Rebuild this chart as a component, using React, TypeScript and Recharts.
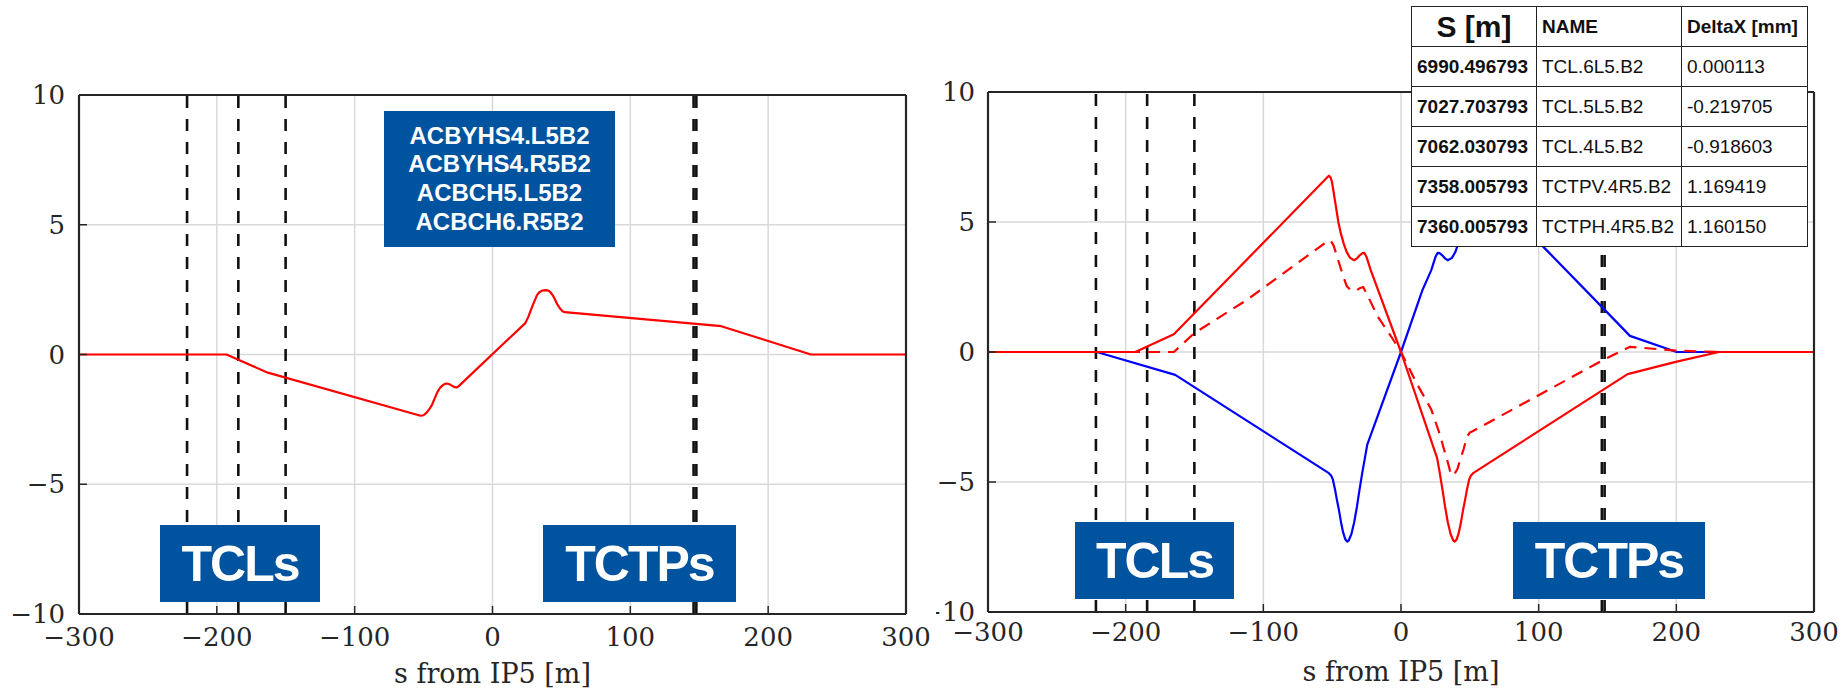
import React from 'react';
import {
  LineChart,
  Line,
  XAxis,
  YAxis,
  CartesianGrid,
  ReferenceLine,
} from 'recharts';

// axis ticks
const xTicks = [-300, -200, -100, 0, 100, 200, 300];
const yTicks = [-10, -5, 0, 5, 10];

// collimator positions, s from IP5 [m]
const tclPositions = [-221.6, -184.4, -150.1];
const tctpPositions = [145.9, 147.9];

// left panel: orbit bump from the 4 correctors
const leftRedS = [-300, -193, -163, -52.2, -50, -48, -46, -44, -42, -40, -38, -36, -34.5, -33, -31, -29.5, -27.5, -26, -24.5, 23.8, 26, 28.1, 30, 32.3, 34, 36, 38.7, 40.5, 42, 43.5, 45.1, 47, 49.3, 50.8, 52.3, 166, 196, 231, 300];
const leftRedX = [0, 0, -0.7, -2.36, -2.34, -2.25, -2.12, -1.95, -1.7, -1.45, -1.28, -1.18, -1.13, -1.12, -1.15, -1.2, -1.26, -1.27, -1.22, 1.21, 1.45, 1.75, 2.0, 2.29, 2.4, 2.46, 2.48, 2.46, 2.4, 2.3, 2.15, 1.93, 1.75, 1.67, 1.63, 1.09, 0.59, 0, 0];

// right panel
const rightRedS = [-300, -193, -165, -53.5, -52.4, -51, -50, -48.5, -47, -45.5, -43.8, -41.5, -39.5, -37, -34, -32, -30, -28, -26.6, -25, -22, 0, 26.2, 28, 30.5, 32, 34, 36, 38, 39.1, 40.5, 42, 43.4, 45, 46.5, 47.7, 49.5, 50.8, 52.4, 164.6, 200.3, 231, 300];
const rightRedX = [0, 0, 0.68, 6.72, 6.78, 6.7, 6.5, 6.0, 5.5, 5.0, 4.58, 4.15, 3.85, 3.62, 3.53, 3.6, 3.72, 3.8, 3.81, 3.65, 3.15, 0, -4.07, -4.6, -5.42, -5.95, -6.55, -7.0, -7.25, -7.29, -7.2, -6.95, -6.6, -6.1, -5.7, -5.35, -4.9, -4.75, -4.66, -0.85, -0.37, 0, 0];

const rightDashS = [-300, -165, -150, -112, -52.4, -51, -49, -47.5, -46, -43.8, -41.5, -39.5, -37, -34, -32, -30, -27.5, -25, -16.8, -6, 0, 11.2, 21.9, 28.4, 31, 34, 35.5, 37, 38.5, 41, 43, 45.5, 48, 50, 52, 146.7, 166.3, 200, 232, 300];
const rightDashX = [0, 0, 0.73, 2.0, 4.3, 4.28, 4.1, 3.85, 3.6, 3.22, 2.85, 2.54, 2.4, 2.34, 2.38, 2.45, 2.5, 2.25, 1.36, 0.5, 0, -1.19, -2.2, -3.2, -3.7, -4.24, -4.55, -4.75, -4.72, -4.5, -4.15, -3.73, -3.25, -3.1, -3.05, -0.31, 0.2, 0.05, 0, 0];

const rightBlueS = [-300, -221, -164, -52.4, -50.8, -49.5, -47.7, -46.5, -45, -43.4, -42, -40.5, -39.1, -38, -36, -34, -32, -30.5, -28, -26.2, -24.5, 0, 15.5, 22, 25, 26.6, 28, 30, 32, 34, 37, 39.5, 41.5, 43.8, 45.5, 47, 48.5, 50, 51, 52.4, 53.5, 106.8, 148, 166.3, 200.2, 300];
const rightBlueX = [0, 0, -0.88, -4.66, -4.75, -4.9, -5.35, -5.7, -6.1, -6.6, -6.95, -7.2, -7.29, -7.25, -7.0, -6.55, -5.95, -5.42, -4.6, -4.07, -3.56, 0, 2.37, 3.15, 3.65, 3.81, 3.8, 3.72, 3.6, 3.53, 3.62, 3.85, 4.15, 4.58, 5.0, 5.5, 6.0, 6.5, 6.7, 6.78, 6.72, 3.86, 1.62, 0.62, 0, 0];

// corrector names and collimator table
const correctorNames = ['ACBYHS4.L5B2', 'ACBYHS4.R5B2', 'ACBCH5.L5B2', 'ACBCH6.R5B2'];
const tableS = ['6990.496793', '7027.703793', '7062.030793', '7358.005793', '7360.005793'];
const tableNames = ['TCL.6L5.B2', 'TCL.5L5.B2', 'TCL.4L5.B2', 'TCTPV.4R5.B2', 'TCTPH.4R5.B2'];
const tableDeltaX = ['0.000113', '-0.219705', '-0.918603', '1.169419', '1.160150'];

const toPoints = (s: number[], x: number[]) => s.map((v, i) => ({ s: v, x: x[i] }));

const BOX_BLUE = '#00539F';
const AXIS = '#262626';
const fmt = (v: number) => (v < 0 ? `\u2212${-v}` : `${v}`);

interface Series {
  key: string;
  data: { s: number; x: number }[];
  color: string;
  dash?: string;
}

interface PanelProps {
  width: number;
  series: Series[];
  margin: { top: number; right: number; left: number; bottom: number };
  yAxisWidth: number;
  xAxisHeight: number;
  xTickGap: number;
  yTickGap: number;
  labelOffset: number;
}

function OrbitPanel({ width, series, margin, yAxisWidth, xAxisHeight, xTickGap, yTickGap, labelOffset }: PanelProps) {
  const tickStyle = { fontSize: 26, fill: AXIS, fontFamily: 'DejaVu Serif' };
  const axisLine = { stroke: AXIS, strokeWidth: 2.2 };
  const tickLine = { stroke: AXIS, strokeWidth: 1.5 };
  return (
    <LineChart width={width} height={691} margin={margin}>
      <CartesianGrid stroke="#d9d9d9" strokeWidth={1.5} />
      <XAxis
        type="number"
        dataKey="s"
        domain={[-300, 300]}
        ticks={xTicks}
        tickFormatter={fmt}
        allowDataOverflow
        height={xAxisHeight}
        tick={tickStyle}
        axisLine={axisLine}
        tickLine={tickLine}
        tickSize={-8}
        tickMargin={8 + xTickGap}
        label={{
          value: 's from IP5 [m]',
          position: 'insideBottom',
          offset: labelOffset,
          fontSize: 27,
          fill: AXIS,
          fontFamily: 'DejaVu Serif',
        }}
      />
      <XAxis
        xAxisId="top"
        orientation="top"
        type="number"
        domain={[-300, 300]}
        ticks={xTicks}
        height={1}
        tick={false}
        axisLine={axisLine}
        tickLine={tickLine}
        tickSize={-8}
      />
      <YAxis
        type="number"
        domain={[-10, 10]}
        ticks={yTicks}
        tickFormatter={fmt}
        allowDataOverflow
        width={yAxisWidth}
        tick={tickStyle}
        axisLine={axisLine}
        tickLine={tickLine}
        tickSize={-8}
        tickMargin={8 + yTickGap}
      />
      <YAxis
        yAxisId="right"
        orientation="right"
        type="number"
        domain={[-10, 10]}
        ticks={yTicks}
        width={1}
        tick={false}
        axisLine={axisLine}
        tickLine={tickLine}
        tickSize={-8}
      />
      {tclPositions.map((p) => (
        <ReferenceLine key={`tcl${p}`} x={p} stroke="#111" strokeWidth={2.6} strokeDasharray="12 11" />
      ))}
      {tctpPositions.map((p) => (
        <ReferenceLine key={`tctp${p}`} x={p} stroke="#111" strokeWidth={2.6} strokeDasharray="12 11" />
      ))}
      {series.map((sr) => (
        <Line
          key={sr.key}
          data={sr.data}
          dataKey="x"
          type="linear"
          stroke={sr.color}
          strokeWidth={2.2}
          strokeDasharray={sr.dash}
          strokeLinejoin="round"
          dot={false}
          activeDot={false}
          isAnimationActive={false}
        />
      ))}
    </LineChart>
  );
}

const boxStyle: React.CSSProperties = {
  position: 'absolute',
  background: BOX_BLUE,
  color: '#fff',
  fontFamily: 'Arial, "Liberation Sans", sans-serif',
  fontWeight: 'bold',
  display: 'flex',
  alignItems: 'center',
  justifyContent: 'center',
};

function LabelBox({ left, top, width, height, text }: { left: number; top: number; width: number; height: number; text: string }) {
  return (
    <div style={{ ...boxStyle, left, top, width, height, fontSize: 50, letterSpacing: -2 }}>
      {text}
    </div>
  );
}

const cell: React.CSSProperties = {
  border: '1px solid #222',
  padding: '0 5px',
  height: 39,
  fontSize: 19,
  whiteSpace: 'nowrap',
  overflow: 'hidden',
  color: '#111',
};

export default function App() {
  const leftSeries: Series[] = [{ key: 'red', data: toPoints(leftRedS, leftRedX), color: '#FF0000' }];
  const rightSeries: Series[] = [
    { key: 'blue', data: toPoints(rightBlueS, rightBlueX), color: '#0000FF' },
    { key: 'dash', data: toPoints(rightDashS, rightDashX), color: '#FF0000', dash: '12 8' },
    { key: 'red', data: toPoints(rightRedS, rightRedX), color: '#FF0000' },
  ];

  return (
    <div style={{ position: 'absolute', left: 0, top: 0, width: 1848, height: 691, background: '#fff', overflow: 'hidden' }}>
      <div style={{ position: 'absolute', left: 0, top: 0 }}>
        <OrbitPanel
          width={935}
          series={leftSeries}
          margin={{ top: 94, right: 28, left: 0, bottom: 0 }}
          yAxisWidth={79}
          xAxisHeight={77}
          xTickGap={14}
          yTickGap={14}
          labelOffset={8}
        />
      </div>
      <div style={{ position: 'absolute', left: 936, top: 0, width: 912, height: 691, overflow: 'hidden' }}>
        <OrbitPanel
          width={912}
          series={rightSeries}
          margin={{ top: 91, right: 33, left: 0, bottom: 0 }}
          yAxisWidth={52}
          xAxisHeight={79}
          xTickGap={11}
          yTickGap={13}
          labelOffset={10}
        />
      </div>

      {/* corrector names */}
      <div
        style={{
          ...boxStyle,
          left: 384,
          top: 111,
          width: 231,
          height: 136,
          flexDirection: 'column',
          fontSize: 24,
          lineHeight: '28.7px',
        }}
      >
        {correctorNames.map((n) => (
          <div key={n}>{n}</div>
        ))}
      </div>

      <LabelBox left={160} top={525} width={160} height={77} text="TCLs" />
      <LabelBox left={543} top={525} width={193} height={77} text="TCTPs" />
      <LabelBox left={1075} top={522} width={159} height={77} text="TCLs" />
      <LabelBox left={1513} top={522} width={192} height={77} text="TCTPs" />

      {/* collimator table */}
      <table
        style={{
          position: 'absolute',
          left: 1411,
          top: 6,
          width: 396,
          borderCollapse: 'collapse',
          tableLayout: 'fixed',
          background: '#fff',
          fontFamily: 'Arial, "Liberation Sans", sans-serif',
        }}
      >
        <colgroup>
          <col style={{ width: 125 }} />
          <col style={{ width: 145 }} />
          <col style={{ width: 126 }} />
        </colgroup>
        <tbody>
          <tr>
            <td style={{ ...cell, fontSize: 30, fontWeight: 'bold', textAlign: 'center' }}>S [m]</td>
            <td style={{ ...cell, fontWeight: 'bold' }}>NAME</td>
            <td style={{ ...cell, fontWeight: 'bold' }}>DeltaX [mm]</td>
          </tr>
          {tableS.map((s, i) => (
            <tr key={s}>
              <td style={{ ...cell, fontWeight: 'bold' }}>{s}</td>
              <td style={cell}>{tableNames[i]}</td>
              <td style={cell}>{tableDeltaX[i]}</td>
            </tr>
          ))}
        </tbody>
      </table>
    </div>
  );
}
